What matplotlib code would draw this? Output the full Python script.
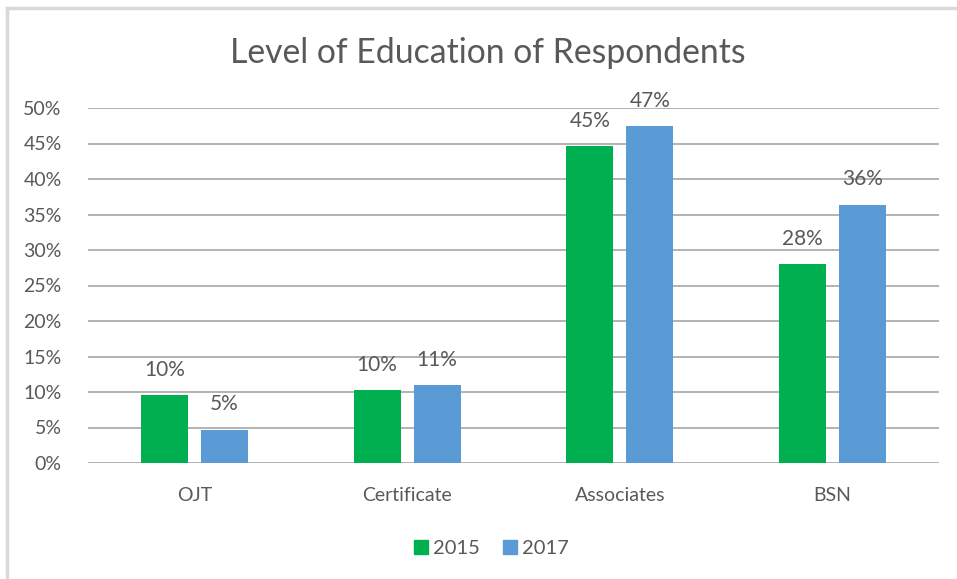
import matplotlib
matplotlib.use("Agg")
import matplotlib.pyplot as plt
from matplotlib.ticker import FuncFormatter
from matplotlib.lines import Line2D
import numpy as np

categories = ["OJT", "Certificate", "Associates", "BSN"]
series_names = ["2015", "2017"]
values_2015 = [0.096, 0.103, 0.446, 0.280]
values_2017 = [0.047, 0.110, 0.474, 0.364]
yticks = [0.0, 0.05, 0.10, 0.15, 0.20, 0.25, 0.30, 0.35, 0.40, 0.45, 0.50]

colors = ["#00B050", "#5B9BD5"]
text_color = "#595959"
grid_color = "#A6A6A6"
font = ["Lato", "DejaVu Sans"]

plt.rcParams["font.family"] = font

fig = plt.figure(figsize=(9.57, 5.79), dpi=100)
ax = fig.add_axes([88 / 957, 116 / 579, 851 / 957, 355 / 579])

x = np.arange(len(categories))
bw = 0.221
off = 0.141
for vals, name, c, o in [(values_2015, series_names[0], colors[0], -off),
                         (values_2017, series_names[1], colors[1], off)]:
    bars = ax.bar(x + o, vals, width=bw, color=c, label=name, zorder=3)
    for b, v in zip(bars, vals):
        ax.annotate(f"{round(v * 100)}%", (b.get_x() + b.get_width() / 2, v),
                    xytext=(0, 11), textcoords="offset points",
                    ha="center", va="bottom", fontsize=15, color=text_color)

ax.set_xlim(-0.5, len(categories) - 0.5)
ax.set_ylim(0, 0.5)
ax.set_yticks(yticks)
ax.yaxis.set_major_formatter(FuncFormatter(lambda v, p: f"{v*100:.0f}%"))
ax.set_xticks(x)
ax.set_xticklabels(categories)
ax.tick_params(axis="both", length=0, labelsize=14, labelcolor=text_color)
ax.tick_params(axis="y", pad=19)
ax.tick_params(axis="x", pad=17)
ax.grid(axis="y", color=grid_color, linewidth=1.2, zorder=0)
for s in ax.spines.values():
    s.set_visible(False)

fig.text(488 / 957, 1 - 53 / 579, "Level of Education of Respondents",
         ha="center", va="center", fontsize=24.3, color=text_color)

handles = [Line2D([], [], marker="s", linestyle="", markersize=10,
                  markerfacecolor=c, markeredgecolor=c) for c in colors]
fig.legend(handles, series_names, loc="center", bbox_to_anchor=(490 / 957, 1 - 548 / 579),
           ncol=2, frameon=False, fontsize=14.5, labelcolor=text_color,
           handletextpad=0.1, columnspacing=1.0, handlelength=1.0)

# chart border (top and left visible in crop)
fig.add_artist(Line2D([7 / 957, 7 / 957], [0, 1 - 8 / 579], color="#D9D9D9", linewidth=2.5))
fig.add_artist(Line2D([7 / 957, 1], [1 - 8 / 579, 1 - 8 / 579], color="#D9D9D9", linewidth=2.5))

fig.savefig("out.png", dpi=100, facecolor="white")
